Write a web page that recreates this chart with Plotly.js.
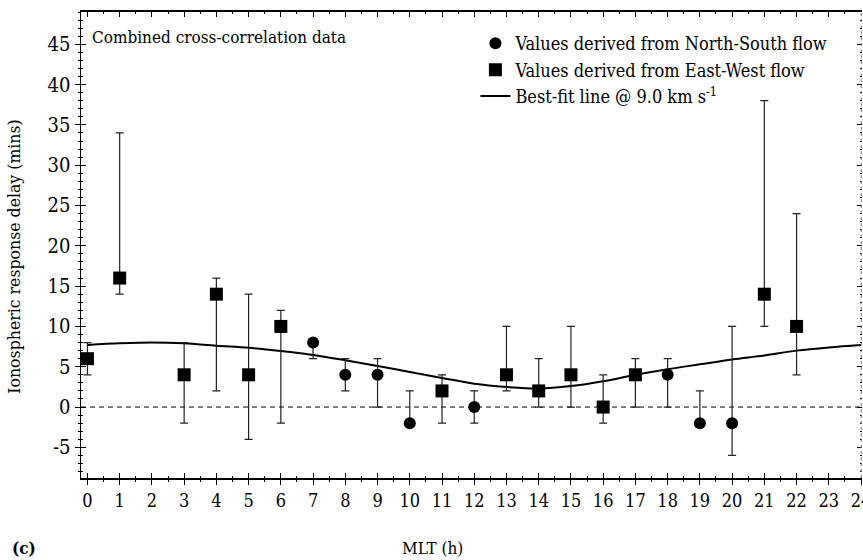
<!DOCTYPE html>
<html>
<head>
<meta charset="utf-8">
<script src="https://cdn.plot.ly/plotly-3.0.1.min.js"></script>
<style>html,body{margin:0;padding:0;background:#fff;}#chart{width:863px;height:560px;}</style>
</head>
<body>
<div id="chart"></div>
<script>
// East-West flow (squares)
const ewMLT   = [0, 1, 3, 4, 5, 6, 11, 13, 14, 15, 16, 17, 21, 22];
const ewDelay = [6, 16, 4, 14, 4, 10, 2, 4, 2, 4, 0, 4, 14, 10];
const ewLow   = [4, 14, -2, 2, -4, -2, -2, 2, 0, 0, -2, 0, 10, 4];
const ewHigh  = [8, 34, 8, 16, 14, 12, 4, 10, 6, 10, 4, 6, 38, 24];

// North-South flow (circles)
const nsMLT   = [7, 8, 9, 10, 12, 18, 19, 20];
const nsDelay = [8, 4, 4, -2, 0, 4, -2, -2];
const nsLow   = [6, 2, 0, -2, -2, 0, -2, -6];
const nsHigh  = [8, 6, 6, 2, 2, 6, 2, 10];

// Best-fit line @ 9.0 km/s
const fitMLT   = [0,1,2,3,4,5,6,7,8,9,10,11,12,13,14,15,16,17,18,19,20,21,22,23,24];
const fitDelay = [7.7,7.9,8.0,7.9,7.6,7.35,6.95,6.45,5.8,5.1,4.35,3.6,2.9,2.5,2.3,2.6,3.2,4.0,4.7,5.3,5.9,6.4,7.0,7.4,7.7];

// Axis ticks
const xTickVals = [0,1,2,3,4,5,6,7,8,9,10,11,12,13,14,15,16,17,18,19,20,21,22,23,24];
const xTickText = xTickVals.map(String);
const yTickVals = [-5,0,5,10,15,20,25,30,35,40,45];
const yTickText = ["-5","0","5","10","15","20","25","30","35","40","45"];

const FC = 'DejaVu Serif Condensed, DejaVu Serif';
const up = (v, h) => h.map((x, i) => x - v[i]);
const dn = (v, l) => l.map((x, i) => v[i] - x);

const traces = [
  {
    x: fitMLT, y: fitDelay, type: 'scatter', mode: 'lines',
    line: {color: '#000', width: 2, shape: 'spline'},
    name: 'Best-fit line @ 9.0 km s<sup>-1</sup>', legendrank: 3, hoverinfo: 'skip'
  },
  {
    x: nsMLT, y: nsDelay, type: 'scatter', mode: 'markers',
    marker: {symbol: 'circle', size: 12, color: '#000'},
    error_y: {type: 'data', symmetric: false, array: up(nsDelay, nsHigh), arrayminus: dn(nsDelay, nsLow),
              color: '#222', thickness: 1.2, width: 4},
    name: 'Values derived from North-South flow', legendrank: 1
  },
  {
    x: ewMLT, y: ewDelay, type: 'scatter', mode: 'markers',
    marker: {symbol: 'square', size: 13, color: '#000'},
    error_y: {type: 'data', symmetric: false, array: up(ewDelay, ewHigh), arrayminus: dn(ewDelay, ewLow),
              color: '#222', thickness: 1.2, width: 4},
    name: 'Values derived from East-West flow', legendrank: 2
  },
  { x: [], y: [], xaxis: 'x2', yaxis: 'y2', type: 'scatter', showlegend: false, hoverinfo: 'skip' }
];

const XR = [-0.2, 24.03];
const YR = [-8.8, 49];

const layout = {
  width: 863, height: 560,
  margin: {l: 81, r: 1, t: 12, b: 82},
  paper_bgcolor: '#fff', plot_bgcolor: '#fff',
  font: {family: FC, size: 18, color: '#000'},
  showlegend: true,
  legend: {x: 0.505, y: 0.972, xanchor: 'left', yanchor: 'top', bgcolor: 'rgba(0,0,0,0)',
           font: {family: FC, size: 18, color: '#000'}, tracegroupgap: 0, itemwidth: 30},
  xaxis: {
    range: XR, tickvals: xTickVals, ticktext: xTickText, ticks: 'outside', ticklen: 5, tickwidth: 1,
    tickcolor: '#000', showline: true, linecolor: '#000', linewidth: 2, mirror: true,
    showgrid: false, zeroline: false, tickfont: {family: FC, size: 18}, ticklabeloverflow: 'allow',
    minor: {dtick: 0.5, ticks: 'outside', ticklen: 2, tickcolor: '#000', showgrid: false}
  },
  yaxis: {
    range: YR, tickvals: yTickVals, ticktext: yTickText, ticks: 'outside', ticklen: 5, tickwidth: 1,
    tickcolor: '#000', showline: true, linecolor: '#000', linewidth: 1.5, mirror: false,
    showgrid: false, zeroline: false, tickfont: {family: FC, size: 20},
    minor: {dtick: 1, ticks: 'outside', ticklen: 2, tickcolor: '#000', showgrid: false}
  },
  xaxis2: {
    overlaying: 'x', range: XR, tickvals: xTickVals, ticks: 'inside', ticklen: 5, tickcolor: '#000',
    showticklabels: false, showline: false, mirror: 'ticks', showgrid: false, zeroline: false,
    minor: {dtick: 0.5, ticks: 'inside', ticklen: 2, tickcolor: '#000', showgrid: false}
  },
  yaxis2: {
    overlaying: 'y', range: YR, tickvals: yTickVals, ticks: 'inside', ticklen: 5, tickcolor: '#000',
    showticklabels: false, showline: false, mirror: 'ticks', showgrid: false, zeroline: false,
    minor: {dtick: 1, ticks: 'inside', ticklen: 2, tickcolor: '#000', showgrid: false}
  },
  shapes: [
    {type: 'line', xref: 'paper', yref: 'y', x0: 0, x1: 1, y0: 0, y1: 0,
     line: {color: '#000', width: 1, dash: '5px,4px'}, layer: 'below'},
    {type: 'line', xref: 'paper', yref: 'paper', x0: 0.999, x1: 0.999, y0: 0, y1: 1,
     line: {color: '#777', width: 1, dash: 'dot'}}
  ],
  annotations: [
    {text: 'Combined cross-correlation data', xref: 'paper', yref: 'paper', x: 0.012, y: 0.972,
     xanchor: 'left', yanchor: 'top', showarrow: false, font: {family: FC, size: 17}},
    {text: 'Ionospheric response delay (mins)', xref: 'paper', yref: 'paper', x: -0.085, y: 0.474,
     xanchor: 'center', yanchor: 'middle', textangle: -90, showarrow: false, font: {family: FC, size: 17.5}},
    {text: 'MLT (h)', xref: 'paper', yref: 'paper', x: 0.45, y: -0.15,
     xanchor: 'center', yanchor: 'middle', showarrow: false, font: {family: FC, size: 17}},
    {text: '<b>(c)</b>', xref: 'paper', yref: 'paper', x: -0.073, y: -0.15,
     xanchor: 'center', yanchor: 'middle', showarrow: false, font: {family: FC, size: 17}}
  ]
};

Plotly.newPlot('chart', traces, layout, {staticPlot: true, displayModeBar: false});
</script>
</body>
</html>
